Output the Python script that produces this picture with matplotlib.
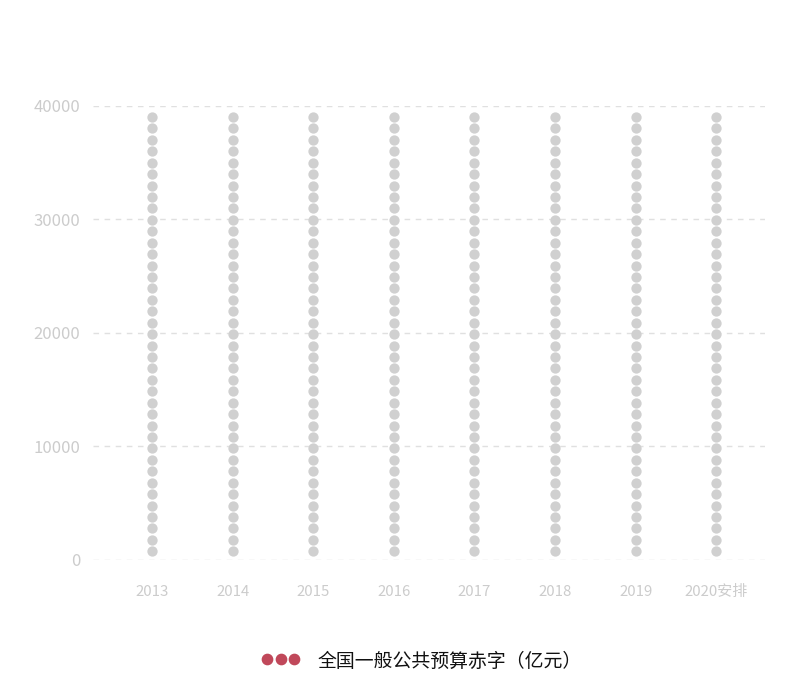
import matplotlib
matplotlib.use("Agg")
import matplotlib.pyplot as plt
from matplotlib.lines import Line2D
import numpy as np

plt.rcParams['font.family'] = ['Noto Sans CJK SC', 'DejaVu Sans']

# Data
categories = ['2013', '2014', '2015', '2016', '2017', '2018', '2019', '2020安排']
background_max = 39030      # top of the grey background symbol column
background_min = 723        # first symbol centre
background_count = 39       # symbols per column
y_ticks = [0, 10000, 20000, 30000, 40000]
legend_label = '全国一般公共预算赤字（亿元）'

W, H = 800, 700
fig = plt.figure(figsize=(W / 100, H / 100), dpi=100)
ax = fig.add_axes([93 / W, (H - 559.5) / H, (765 - 93) / W, (559.5 - 106) / H])

grey_dot = '#d0d0d0'
sym_vals = np.linspace(background_min, background_max, background_count)
for i, _ in enumerate(categories):
    ax.plot(np.full(background_count, i), sym_vals, linestyle='none',
            marker='o', markersize=6.4, markerfacecolor=grey_dot,
            markeredgecolor=grey_dot, zorder=3)

ax.set_ylim(0, 40000)
ax.set_xlim(-0.732, 7.605)
ax.set_yticks(y_ticks)
ax.set_yticklabels([str(v) for v in y_ticks], fontweight='light')
ax.set_xticks(range(len(categories)))
ax.set_xticklabels(categories, fontweight='light')
ax.tick_params(axis='y', length=0, pad=9, labelsize=12, labelcolor='#cccccc')
ax.tick_params(axis='x', length=0, pad=18, labelsize=10.8, labelcolor='#cccccc')
for s in ax.spines.values():
    s.set_visible(False)
ax.grid(axis='y', color='#e0e0e0', linestyle=(0, (4, 4)), linewidth=1, zorder=0)
ax.set_axisbelow(True)

# Legend
legend_color = '#c0485a'
fig.add_artist(Line2D([267 / W, 280.5 / W, 294 / W], [(H - 658.5) / H] * 3,
                      transform=fig.transFigure, linestyle='none', marker='o',
                      markersize=7.4, markerfacecolor=legend_color,
                      markeredgecolor=legend_color))
fig.text(318 / W, (H - 661) / H, legend_label, fontsize=13.6, color='#111111',
         va='center', ha='left')

fig.savefig('out.png', dpi=100, facecolor='white')
